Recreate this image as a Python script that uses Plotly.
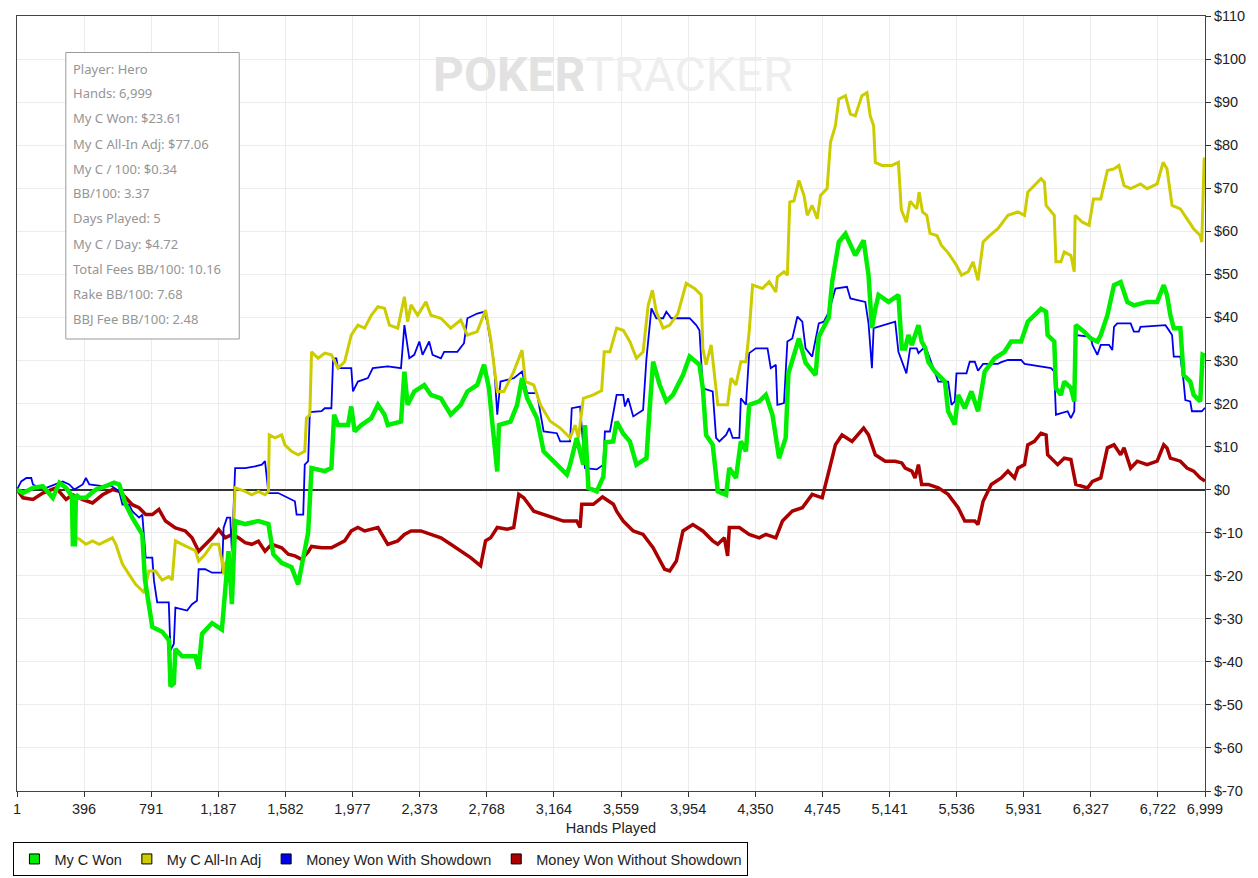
import plotly.graph_objects as go

# ---- data (hands played, dollars) ----
green_hands = [1, 36, 95, 153, 212, 251, 290, 325, 330, 342, 348, 368, 407, 466, 524, 573, 603, 642, 680, 720,
               739, 755, 798, 856, 896, 905, 925, 934, 974, 1052, 1071, 1091, 1150, 1208, 1228, 1247, 1267, 1286,
               1345, 1423, 1482, 1511, 1560, 1618, 1657, 1687, 1716, 1736, 1814, 1853, 1869, 1892, 1951, 1970, 1990,
               2029, 2088, 2127, 2166, 2185, 2263, 2283, 2302, 2341, 2400, 2439, 2498, 2556, 2615, 2654, 2712, 2752,
               2781, 2800, 2830, 2840, 2908, 2947, 2976, 3006, 3064, 3103, 3162, 3240, 3259, 3298, 3337, 3347, 3367,
               3416, 3455, 3468, 3513, 3533, 3572, 3611, 3650, 3709, 3728, 3748, 3787, 3826, 3865, 3924, 3963, 4021,
               4041, 4060, 4099, 4129, 4178, 4197, 4236, 4265, 4295, 4314, 4373, 4412, 4451, 4490, 4529, 4545, 4607,
               4646, 4705, 4724, 4783, 4803, 4842, 4881, 4939, 4988, 5017, 5037, 5057, 5076, 5135, 5193, 5213, 5233,
               5252, 5272, 5311, 5330, 5350, 5369, 5408, 5447, 5467, 5486, 5525, 5545, 5584, 5623, 5662, 5701, 5760,
               5818, 5857, 5916, 5955, 5994, 6033, 6063, 6072, 6111, 6121, 6150, 6170, 6209, 6229, 6238, 6287, 6326,
               6365, 6385, 6424, 6463, 6502, 6541, 6580, 6658, 6717, 6756, 6775, 6795, 6815, 6854, 6873, 6912, 6932,
               6971, 6985, 6999]
green_vals = [0, -0.8, 0.4, 0.8, -1.9, 1.6, 0.4, -1.5, -12.7, -12.7, -1.2, -1.9, -1.9, 0, 0.8, 1.6, 1.2, -3.5, -6.5,
              -8.9, -10.4, -21, -31.9, -33, -35, -45.7, -45, -37, -38.7, -38.7, -41.6, -33.5, -31, -32.5, -22, -14.3,
              -26.6, -7.3, -8, -7.3, -8, -15, -17, -18, -22, -16, -10, 5, 4.3, 5, 17.4, 15, 15, 19.3, 13.5, 15, 16.6,
              19.7, 17.4, 15, 15.8, 27.4, 19.7, 22.8, 24.3, 22, 21.2, 17.4, 19.7, 22.8, 24.3, 29, 23.6, 15.8, 4.2, 15,
              15.8, 19.7, 25.9, 21.2, 16.6, 8.9, 6.6, 3.5, 5.8, 12, 5.8, 15, 0.4, -0.4, 3, 11, 11.2, 15.8, 13, 11.2,
              5.8, 7.3, 18.9, 29.7, 24.3, 20.5, 22, 26.6, 30.9, 29, 23.5, 12.7, 10.4, -0.4, -1.2, 5, 2.7, 11.2, 8.9,
              19.7, 20.5, 22, 17.4, 7.3, 12, 27, 35.1, 29.5, 26.6, 35.5, 40, 48.3, 57.5, 59.4, 54.4, 57.9, 49.8, 37.5,
              42, 45.2, 43.6, 45.2, 32.8, 32.8, 35.9, 33.6, 38.2, 34.4, 33, 29.7, 27.4, 25.9, 25.1, 18.2, 15.1, 22,
              18.9, 22.8, 18.2, 27.4, 30.5, 32, 34.4, 34.4, 39, 40.5, 42, 41.3, 35.9, 34.4, 23.6, 22, 25.1, 23.6, 20.5,
              38.2, 36.7, 35.1, 34.4, 35.9, 40.5, 47.5, 48.2, 43.6, 42.8, 43.6, 43.6, 47.5, 45.2, 40.5, 37.5, 37.5,
              26.6, 25.1, 22, 20.5, 31.3, 31]

yellow_hands = [1, 36, 95, 153, 212, 251, 290, 320, 329, 368, 407, 446, 485, 524, 563, 583, 622, 661, 700, 739, 749,
                778, 817, 856, 895, 915, 934, 974, 1013, 1052, 1071, 1110, 1150, 1189, 1208, 1218, 1230, 1247, 1270,
                1286, 1345, 1384, 1423, 1462, 1482, 1487, 1521, 1560, 1579, 1618, 1657, 1696, 1706, 1726, 1736, 1775,
                1814, 1853, 1892, 1931, 1970, 2009, 2049, 2088, 2127, 2166, 2195, 2244, 2283, 2302, 2322, 2361, 2410,
                2439, 2498, 2556, 2615, 2654, 2712, 2761, 2791, 2830, 2869, 2927, 2976, 2996, 3045, 3084, 3142, 3201,
                3259, 3289, 3308, 3337, 3396, 3445, 3460, 3494, 3533, 3572, 3611, 3650, 3689, 3719, 3744, 3767, 3807,
                3846, 3894, 3943, 3992, 4031, 4041, 4060, 4090, 4129, 4187, 4207, 4236, 4265, 4295, 4314, 4334, 4392,
                4432, 4471, 4480, 4519, 4539, 4553, 4578, 4607, 4637, 4656, 4685, 4715, 4734, 4773, 4793, 4822, 4842,
                4881, 4910, 4939, 4978, 5008, 5027, 5047, 5057, 5096, 5154, 5193, 5210, 5240, 5262, 5301, 5315, 5335,
                5360, 5379, 5420, 5447, 5486, 5535, 5565, 5604, 5633, 5662, 5692, 5730, 5779, 5838, 5897, 5936, 5955,
                5994, 6033, 6053, 6063, 6111, 6121, 6150, 6170, 6209, 6229, 6234, 6277, 6316, 6342, 6385, 6424, 6463,
                6492, 6522, 6561, 6619, 6658, 6717, 6752, 6775, 6805, 6854, 6893, 6932, 6971, 6980, 6994, 6999]
yellow_vals = [0, -0.8, 0.4, 0.8, -1.9, 1.6, 0.4, -1.5, -10.8, -11.5, -12.7, -11.9, -12.7, -11.9, -11.2, -12.7, -17.3,
               -19.7, -22, -23.5, -24, -18.9, -18.9, -21, -20.2, -21, -11.9, -12.7, -13.5, -14.2, -16.6, -15, -12.7,
               -12.7, -16.6, -19.7, -17, -15.8, -16.6, 0.4, -0.4, -1.2, -0.4, -1.2, -0.4, 12.7, 12, 12.7, 10.4, 8.9,
               8.1, 8.9, 16.6, 17.4, 32, 30.5, 31.7, 31.3, 28.2, 29.7, 35.9, 38.2, 37.5, 40.5, 42.5, 42.1, 38.2, 37.5,
               44.8, 39, 42.9, 40.5, 43.6, 40.5, 39.8, 37.5, 39.4, 35.9, 36.7, 41.7, 35.1, 22.8, 22.8, 27.4, 32.4,
               25.1, 24.3, 19.7, 15.9, 14.3, 12, 15, 12, 21.2, 22, 23, 32, 32, 37.5, 37, 34.4, 30.5, 32, 42.8, 46.3,
               41.3, 37.5, 38.2, 40.9, 47.9, 46.7, 45.2, 32.8, 29, 33.6, 19.7, 19.7, 25.9, 24.3, 29.7, 29.7, 36.7,
               47.5, 46.7, 48.3, 45.9, 49.4, 50.6, 49.8, 66.8, 67.1, 71.8, 68.3, 63.7, 66, 62.9, 68.3, 69.9, 80.7,
               84.5, 90.7, 91.5, 87.2, 86.8, 91.5, 92.2, 86.8, 84.5, 76, 75.3, 75.3, 76, 65, 62.1, 67, 65.2, 69.1,
               64.5, 63.7, 59.5, 59, 56.7, 55, 52.1, 49.8, 50.6, 52.9, 48.6, 57.5, 59, 60.6, 63.7, 64.5, 63.7, 69.1,
               70.6, 72.2, 71.4, 66, 63.7, 52.9, 52.9, 55.2, 54.4, 50.6, 63.7, 62.1, 61.4, 67.5, 67.5, 74.1, 74.5,
               75.3, 70.6, 69.9, 71, 69.9, 71, 76, 74.5, 66, 65.2, 62.9, 60.6, 59, 57.5, 76.8, 77.06]

blue_hands = [1, 26, 56, 85, 95, 134, 173, 231, 270, 309, 339, 388, 407, 427, 505, 544, 603, 622, 661, 680, 720, 739,
              759, 798, 808, 827, 895, 905, 925, 934, 974, 1003, 1032, 1061, 1071, 1110, 1150, 1208, 1218, 1238,
              1257, 1267, 1286, 1345, 1403, 1443, 1462, 1482, 1540, 1579, 1638, 1648, 1687, 1696, 1716, 1726, 1795,
              1814, 1853, 1863, 1882, 1892, 1970, 1980, 2009, 2068, 2097, 2185, 2263, 2283, 2312, 2341, 2371, 2390,
              2429, 2449, 2498, 2517, 2595, 2634, 2654, 2712, 2751, 2771, 2810, 2830, 2849, 2927, 2976, 3006, 3064,
              3103, 3181, 3201, 3259, 3269, 3318, 3347, 3416, 3455, 3464, 3494, 3533, 3572, 3582, 3601, 3631, 3689,
              3709, 3738, 3767, 3807, 3826, 3855, 3963, 4002, 4021, 4041, 4099, 4119, 4138, 4178, 4197, 4217, 4256,
              4265, 4295, 4314, 4353, 4422, 4441, 4471, 4480, 4519, 4539, 4568, 4598, 4627, 4646, 4685, 4724, 4754,
              4783, 4822, 4890, 4910, 4998, 5017, 5037, 5047, 5174, 5193, 5213, 5240, 5262, 5301, 5311, 5340, 5360,
              5428, 5486, 5506, 5525, 5535, 5594, 5613, 5643, 5662, 5692, 5779, 5799, 5838, 5916, 5936, 6092, 6111,
              6121, 6190, 6209, 6229, 6238, 6326, 6336, 6365, 6385, 6434, 6453, 6463, 6482, 6561, 6580, 6609, 6619,
              6766, 6785, 6805, 6815, 6854, 6873, 6883, 6912, 6922, 6980, 6999]
blue_vals = [0, 1.9, 2.7, 2.7, 1.2, 0.4, 0.4, 1.2, 1.9, 1.2, 0, 1.2, 2.7, 1.2, 0.8, 1.2, -0.4, -3.5, -3.5, -5, -6.5,
             -5.8, -15.8, -15.8, -21.2, -26.2, -26.2, -37.4, -35.8, -27.4, -27.8, -28.1, -26.6, -25.8, -18.5, -18.5,
             -19.3, -19.3, -8.9, -6.5, -6.5, -14.3, 5, 5, 5.4, 5.8, 6.6, -0.8, -0.8, -1.5, -2.7, -5.8, -5.8, 5.8, 6.6,
             18, 18.2, 18.9, 18.9, 30.5, 30.5, 28.2, 28.2, 22.8, 25.1, 25.9, 28.2, 28.6, 28.2, 38.2, 30.5, 31.3, 34.4,
             31.3, 34.4, 31.3, 30.5, 32, 32, 34, 39.8, 40.9, 41.3, 39, 29.7, 17.4, 25.1, 25.9, 27.4, 22.4, 22.4, 13.5,
             13.1, 11.2, 11.2, 18.9, 19.3, 5, 4.7, 5.8, 13.5, 13.5, 22, 22, 19.3, 21.2, 17, 18.5, 30.5, 42.1, 39.8,
             39.8, 41.3, 39.8, 39.8, 38.2, 37, 23.5, 22.8, 12, 11.2, 12.7, 14.3, 12, 12, 21.2, 19.7, 31.7, 32.8, 32.8,
             28.2, 29, 19.7, 20.1, 34.4, 35.1, 40.2, 39, 32.8, 30.9, 38.6, 39, 41.3, 46.7, 47.1, 44.4, 43.6, 38.6,
             28.2, 37.5, 39, 32, 29.7, 27, 32.8, 32.8, 31.7, 32.8, 32.4, 25.1, 25.1, 19.7, 20.5, 27, 27, 29.7, 29.7,
             27.6, 29.2, 29.2, 29.6, 30.1, 30.1, 29.2, 28.2, 27.4, 17.4, 18.2, 16.6, 18.2, 35.9, 35.5, 33.6, 31.3,
             33.6, 33.6, 32.4, 37.8, 38.6, 38.6, 36.7, 36.7, 37.8, 38.2, 37.1, 35.9, 30.9, 30.9, 25.1, 20.8, 20.5,
             18.2, 18.2, 19]

red_hands = [1, 36, 95, 153, 231, 290, 329, 388, 446, 505, 563, 603, 642, 680, 720, 759, 798, 837, 876, 934, 993,
             1032, 1071, 1110, 1150, 1189, 1228, 1267, 1306, 1345, 1384, 1423, 1462, 1501, 1560, 1599, 1638, 1677,
             1716, 1736, 1795, 1853, 1892, 1931, 1970, 2009, 2049, 2088, 2127, 2185, 2244, 2283, 2322, 2380, 2439,
             2498, 2556, 2615, 2673, 2732, 2761, 2791, 2830, 2888, 2927, 2957, 2986, 3045, 3103, 3162, 3220, 3298,
             3318, 3328, 3396, 3450, 3514, 3533, 3572, 3631, 3689, 3748, 3787, 3816, 3846, 3885, 3924, 3982, 4041,
             4099, 4129, 4168, 4187, 4197, 4256, 4314, 4373, 4412, 4471, 4510, 4568, 4627, 4685, 4744, 4783, 4822,
             4861, 4920, 4988, 5017, 5057, 5115, 5174, 5213, 5233, 5272, 5291, 5311, 5330, 5369, 5428, 5486, 5545,
             5584, 5643, 5662, 5692, 5740, 5799, 5838, 5877, 5897, 5936, 5955, 5994, 6033, 6063, 6072, 6131, 6170,
             6209, 6238, 6307, 6336, 6385, 6424, 6463, 6502, 6522, 6561, 6600, 6658, 6717, 6756, 6775, 6795, 6854,
             6893, 6932, 6971, 6999]
red_vals = [0, -1.9, -2.3, -0.8, 0.4, -2.3, -1.2, -2.3, -3.1, -1.2, 0, -0.4, -1.9, -3.5, -4.2, -5.8, -5.8, -4.6,
            -7.3, -8.9, -9.6, -11.2, -14.3, -12.7, -11.2, -9.3, -11.2, -10.4, -11.2, -12.3, -12.7, -12, -14.3, -12.7,
            -13.5, -15, -15.4, -16.2, -14.5, -13.2, -13.5, -13.5, -12.7, -11.9, -9.6, -8.8, -9.6, -9.2, -8.8, -12.7,
            -11.9, -10.4, -9.6, -9.6, -10.4, -11.2, -12.7, -14.2, -15.8, -17.7, -11.9, -11.2, -8.8, -9.2, -8.8, -1.1,
            -1.9, -5, -5.8, -6.5, -7.3, -7.3, -8.8, -3.4, -3.4, -1.7, -3.4, -5, -7.3, -9.6, -10.4, -13.5, -16.6,
            -18.5, -18.9, -16.6, -9.6, -8.1, -9.6, -11.9, -12.7, -11.2, -15.4, -8.8, -8.8, -10.4, -11.2, -10.4,
            -11.2, -7.3, -5, -4.2, -1.1, -1.9, 4.2, 10.4, 12.7, 11.2, 14.3, 12.7, 8.1, 6.6, 6.6, 6.2, 5, 4.3, 2.7,
            5.8, 1.2, 1.2, 0.4, -1.1, -4.2, -7.3, -7.3, -8.1, -2.7, 1.2, 2.7, 4.3, 2.7, 5, 5.8, 10.4, 11.2, 13.1,
            12.7, 8.1, 5.8, 7.3, 7, 1.2, 0.4, 1.9, 2.7, 9.7, 10.4, 8.1, 9.7, 5, 6.6, 5.8, 6.6, 10.4, 9.7, 7.3, 6.6,
            5, 4.3, 2.7, 2]

series_names = ["My C Won", "My C All-In Adj", "Money Won With Showdown", "Money Won Without Showdown"]
series_colors = ["#00ee00", "#cccc00", "#0000ee", "#aa0000"]

x_ticks = [1, 396, 791, 1187, 1582, 1977, 2373, 2768, 3164, 3559, 3954, 4350, 4745, 5141, 5536, 5931, 6327, 6722, 6999]
y_ticks = list(range(-70, 111, 10))

stats_lines = ["Player: Hero", "Hands: 6,999", "My C Won: $23.61", "My C All-In Adj: $77.06", "My C / 100: $0.34",
               "BB/100: 3.37", "Days Played: 5", "My C / Day: $4.72", "Total Fees BB/100: 10.16",
               "Rake BB/100: 7.68", "BBJ Fee BB/100: 2.48"]

fig = go.Figure()

# draw order: red, blue, yellow, green on top
line_data = [
    (red_hands, red_vals, series_colors[3], 3.5),
    (blue_hands, blue_vals, series_colors[2], 1.8),
    (yellow_hands, yellow_vals, series_colors[1], 3),
    (green_hands, green_vals, series_colors[0], 4.5),
]
for hx, hy, col, w in line_data:
    fig.add_trace(go.Scatter(x=hx, y=hy, mode="lines", line=dict(color=col, width=w),
                             showlegend=False, hoverinfo="skip"))

# legend entries drawn as squares
for name, col in zip(series_names, series_colors):
    fig.add_trace(go.Scatter(x=[None], y=[None], mode="markers", name=name,
                             marker=dict(symbol="square", size=10, color=col,
                                         line=dict(color="#000000", width=1))))

# plot area in screen pixels (the page body adds an 8px offset, margins below compensate)
PLOT_L, PLOT_R, PLOT_T, PLOT_B = 13, 1205, 16, 791


def px_x(px):
    return (px - PLOT_L) / (PLOT_R - PLOT_L)


def px_y(py):
    return (PLOT_B - py) / (PLOT_B - PLOT_T)


# stats box
fig.add_shape(type="rect", xref="paper", yref="paper",
              x0=px_x(62), x1=px_x(236), y0=px_y(339), y1=px_y(52.5),
              line=dict(color="#9a9a9a", width=1), fillcolor="white", layer="above")
for i, txt in enumerate(stats_lines):
    fig.add_annotation(xref="paper", yref="paper", x=px_x(67), y=px_y(68.5 + 25 * i),
                       text=txt, showarrow=False, xanchor="left", yanchor="middle",
                       font=dict(family="Noto Sans", size=13, color="#959595"))

# watermark
fig.add_annotation(xref="paper", yref="paper", x=px_x(611), y=px_y(74),
                   text="<b><span style='color:#e2e2e2'>POKER</span></b>"
                        "<span style='color:#eeeeee'>TRACKER</span>",
                   showarrow=False, xanchor="center", yanchor="middle",
                   font=dict(family="Roboto", size=48, color="#e6e6e6"))

fig.update_layout(
    width=1258, height=878,
    margin=dict(l=5, r=61, t=8, b=95),
    paper_bgcolor="white", plot_bgcolor="white",
    font=dict(family="Liberation Sans, Arial, sans-serif", size=14, color="#222222"),
    showlegend=True,
    legend=dict(orientation="h", x=-0.003, y=px_y(842), xanchor="left", yanchor="top",
                bordercolor="#000000", borderwidth=1, bgcolor="white",
                font=dict(size=14.5, color="#222222"), traceorder="normal"),
)
fig.update_xaxes(range=[1, 6999], tickvals=x_ticks, ticktext=[f"{v:,}" for v in x_ticks],
                 automargin=False, ticklabeloverflow="allow",
                 showgrid=True, gridcolor="#ececec", gridwidth=1,
                 ticks="outside", ticklen=5, tickcolor="#333333",
                 showline=True, linecolor="#444444", linewidth=1, mirror=True,
                 zeroline=False, tickfont=dict(size=14.5),
                 title=dict(text="Hands Played", font=dict(size=14.5), standoff=6))
fig.update_yaxes(range=[-70, 110], side="right", tickvals=y_ticks, ticktext=[f"${v}" for v in y_ticks],
                 automargin=False, ticklabeloverflow="allow",
                 showgrid=True, gridcolor="#ececec", gridwidth=1,
                 ticks="outside", ticklen=5, tickcolor="#333333",
                 showline=True, linecolor="#444444", linewidth=1, mirror=True,
                 zeroline=True, zerolinecolor="#333333", zerolinewidth=1.5,
                 tickfont=dict(size=14.5))

fig.write_html("out.html")
